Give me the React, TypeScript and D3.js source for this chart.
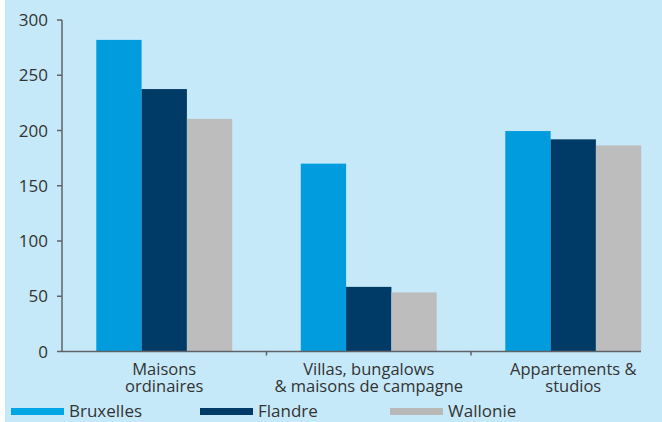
import React from "react";
import * as d3 from "d3";

const categories = ["Maisons ordinaires", "Villas, bungalows & maisons de campagne", "Appartements & studios"];
const categoryLines = [["Maisons", "ordinaires"], ["Villas, bungalows", "& maisons de campagne"], ["Appartements &", "studios"]];
const seriesNames = ["Bruxelles", "Flandre", "Wallonie"];
const bruxelles = [282, 170, 199.5];
const flandre = [237.5, 58.5, 192];
const wallonie = [210.5, 53.5, 186.5];
const yTicks = [0, 50, 100, 150, 200, 250, 300];

const colors = ["#009CDD", "#003B68", "#BDBDBD"];
const legendColors = ["#00A6E4", "#003B68", "#B8B8B8"];
const FONT = "'Open Sans', sans-serif";

export default function App() {
  const W = 662, H = 422;
  const left = 62, top = 20, bottom = 351.5;
  const values = [bruxelles, flandre, wallonie];
  const y = d3.scaleLinear().domain([0, 300]).range([bottom, top]);
  const x0 = d3.scaleBand<string>().domain(categories).range([left, 675.5]).padding(0);
  const x1 = d3.scaleBand<string>().domain(seriesNames).range([0, x0.bandwidth()]).paddingInner(0).paddingOuter(0.757);
  const axisColor = "#5f6368";
  const textColor = "#333333";
  const legendX = [11, 200, 390];

  return (
    <div style={{ position: "fixed", left: 0, top: 0 }}>
      <svg width={W} height={H} style={{ display: "block" }}>
        <rect x={0} y={0} width={W} height={H} fill="#ffffff" />
        <rect x={5} y={0} width={W - 5} height={H} fill="#C6E9F9" />
        {categories.map((c, ci) => (
          <g key={c}>
            {seriesNames.map((s, si) => (
              <rect
                key={s}
                x={(x0(c) as number) + (x1(s) as number)}
                y={y(values[si][ci])}
                width={x1.bandwidth()}
                height={y(0) - y(values[si][ci])}
                fill={colors[si]}
              />
            ))}
          </g>
        ))}
        {/* y axis */}
        <line x1={left} x2={left} y1={y(300)} y2={y(0)} stroke={axisColor} strokeWidth={1.5} />
        {yTicks.map((t) => (
          <g key={t}>
            <line x1={left - 5} x2={left} y1={y(t)} y2={y(t)} stroke={axisColor} strokeWidth={1.5} />
            <text x={48} y={y(t)} dy="0.36em" textAnchor="end" fontFamily={FONT} fontSize={17} fill={textColor}>
              {t}
            </text>
          </g>
        ))}
        {/* x axis */}
        <line x1={left} x2={641} y1={y(0)} y2={y(0)} stroke={axisColor} strokeWidth={1.5} />
        {categories.slice(1).map((c) => (
          <line key={c} x1={x0(c) as number} x2={x0(c) as number} y1={y(0)} y2={y(0) + 4} stroke={axisColor} strokeWidth={1.5} />
        ))}
        {categories.map((c, ci) => (
          <text key={c} textAnchor="middle" fontFamily={FONT} fontSize={16.5} fill={textColor}>
            {categoryLines[ci].map((l, li) => (
              <tspan key={li} x={(x0(c) as number) + x0.bandwidth() / 2} y={374.5 + li * 17.5}>
                {l}
              </tspan>
            ))}
          </text>
        ))}
        {/* legend */}
        {seriesNames.map((s, si) => (
          <g key={s}>
            <rect x={legendX[si]} y={408} width={53} height={7} fill={legendColors[si]} />
            <text x={legendX[si] + 58} y={417} fontFamily={FONT} fontSize={17} fill={textColor}>
              {s}
            </text>
          </g>
        ))}
      </svg>
    </div>
  );
}
